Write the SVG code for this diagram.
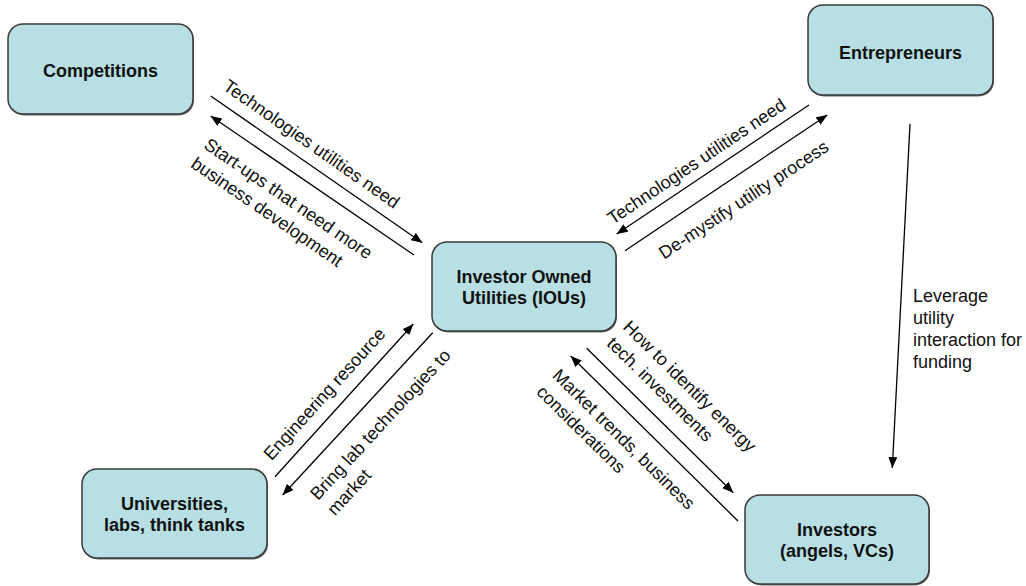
<svg xmlns="http://www.w3.org/2000/svg" width="1026" height="586" viewBox="0 0 1026 586">
<style>
.box{fill:#B8DFE3;stroke:#3a3a3a;stroke-width:1.5}
.sh{fill:#6a6a6a;stroke:none}
.nt{font-family:"Liberation Sans",Arial,sans-serif;font-size:18px;font-weight:bold;fill:#111;text-anchor:middle}
.el{font-family:"Liberation Sans",Arial,sans-serif;font-size:18px;fill:#111}
.ln{stroke:#000;stroke-width:1.3;fill:none;marker-end:url(#ah)}
</style>
<defs>
<marker id="ah" markerWidth="11" markerHeight="9" refX="11" refY="4.5" orient="auto" markerUnits="userSpaceOnUse"><path d="M0,0 L11,4.5 L0,9 z" fill="#000"/></marker>
</defs>
<rect width="1026" height="586" fill="#fff"/>
<g id="competitions"><rect class="sh" x="9" y="25.5" width="185" height="90" rx="15"/><rect class="box" x="8" y="24" width="185" height="90" rx="15"/><text class="nt" x="100.5" y="77">Competitions</text></g>
<g id="entrepreneurs"><rect class="sh" x="809" y="6.5" width="185" height="90" rx="15"/><rect class="box" x="808" y="5" width="185" height="90" rx="15"/><text class="nt" x="900.5" y="59">Entrepreneurs</text></g>
<g id="ious"><rect class="sh" x="433" y="243.5" width="184" height="89" rx="15"/><rect class="box" x="432" y="242" width="184" height="89" rx="15"/><text class="nt" x="524" y="283">Investor Owned</text><text class="nt" x="524" y="304">Utilities (IOUs)</text></g>
<g id="universities"><rect class="sh" x="83" y="470.5" width="185" height="89" rx="15"/><rect class="box" x="82" y="469" width="185" height="89" rx="15"/><text class="nt" x="174.5" y="510">Universities,</text><text class="nt" x="174.5" y="531">labs, think tanks</text></g>
<g id="investors"><rect class="sh" x="746" y="496.5" width="184" height="89" rx="15"/><rect class="box" x="745" y="495" width="184" height="89" rx="15"/><text class="nt" x="837" y="536">Investors</text><text class="nt" x="837" y="557">(angels, VCs)</text></g>
<g id="connectors">
<path class="ln" d="M210.7,96 L422.3,242.7"/>
<path class="ln" d="M414,255 L210.7,116"/>
<path class="ln" d="M809,105 L616.7,234"/>
<path class="ln" d="M625,250.7 L827.3,115"/>
<path class="ln" d="M275,476.7 L413.3,324"/>
<path class="ln" d="M432.7,332.7 L282.7,495"/>
<path class="ln" d="M586.7,348.3 L733.3,492.7"/>
<path class="ln" d="M738,521 L570.7,356"/>
<path class="ln" d="M910,124 L892.3,468"/>
<text class="el" text-anchor="middle" transform="translate(308,149) rotate(35)">Technologies utilities need</text>
<text class="el" transform="translate(202.7,147.4) rotate(34.4)"><tspan x="0" y="0">Start-ups that need more</tspan><tspan x="0" y="23">business development</tspan></text>
<text class="el" text-anchor="middle" transform="translate(700,166.5) rotate(-33.9)">Technologies utilities need</text>
<text class="el" text-anchor="middle" transform="translate(747,204.7) rotate(-33.5)">De-mystify utility process</text>
<text class="el" text-anchor="middle" transform="translate(329,398) rotate(-47.8)">Engineering resource</text>
<text class="el" transform="translate(318,501) rotate(-47.3)"><tspan x="0" y="0">Bring lab technologies to</tspan><tspan x="0" y="23">market</tspan></text>
<text class="el" transform="translate(622,328) rotate(44.6)"><tspan x="0" y="0">How to identify energy</tspan><tspan x="0" y="23">tech. investments</tspan></text>
<text class="el" transform="translate(551.6,376.5) rotate(44.6)"><tspan x="0" y="0">Market trends, business</tspan><tspan x="0" y="23">considerations</tspan></text>
<text class="el"><tspan x="913" y="302">Leverage</tspan><tspan x="913" y="324">utility</tspan><tspan x="913" y="346">interaction for</tspan><tspan x="913" y="368">funding</tspan></text>
</g>
</svg>
